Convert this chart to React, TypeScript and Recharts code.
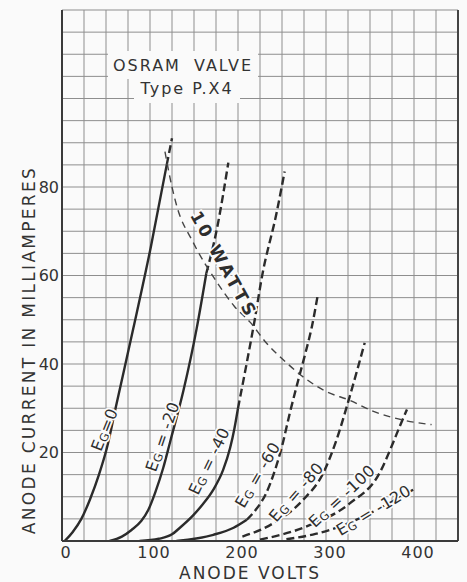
import React from 'react'
import { LineChart, Line, XAxis, YAxis, CartesianGrid, ReferenceLine, ReferenceDot } from 'recharts'

type Pt = [number, number]

// [anode volts, anode mA]
const eg0: Pt[] = [[3, 0], [12, 2], [22, 5], [32, 9.5], [42, 15], [51, 21], [62, 31], [81, 48], [101, 66.5], [119, 85]]
const eg0Ext: Pt[] = [[119, 85], [125, 91]]
const eg20: Pt[] = [[54, 0], [68, 1], [79, 2.5], [90, 4.5], [98, 7], [106, 11], [115, 16.5], [123, 22.5], [138, 34], [153, 48], [164, 60.5]]
const eg20Ext: Pt[] = [[164, 60.5], [176, 70.5], [189, 85.5]]
const eg40: Pt[] = [[88, 0], [110, 0.5], [125, 1.5], [134, 3], [149, 5.8], [160, 8.3], [172, 11.6], [183, 16], [191, 21], [196, 25.5], [200, 30]]
const eg40Ext: Pt[] = [[200, 30], [210, 40.3], [219, 50], [227, 59.5], [244, 74.3], [253, 83.5]]
const eg60: Pt[] = [[130, 0], [172, 1.4], [195, 3], [210, 4.8]]
const eg60Ext: Pt[] = [[210, 4.8], [220, 7], [232, 10.8], [242, 16], [250, 21.4], [259, 29], [268, 36], [276, 42], [284, 48.5], [291, 56]]
const eg80: Pt[] = [[205, 1], [240, 4], [274, 9.3], [297, 15.4], [312, 22.9], [327, 32.7], [344, 44.8]]
const eg100: Pt[] = [[225, 0.3], [278, 3.3], [327, 8.5], [361, 15.4], [376, 22.1], [384, 26], [392, 29.7]]
const eg120: Pt[] = [[255, 0.4], [288, 1.6], [316, 3.3], [365, 7.8], [399, 11.6]]
const tenWatts: Pt[] = [[117, 88], [125, 80], [130, 76], [149, 67.5], [176, 58.5], [196, 53], [214, 49.4], [232, 44.8], [255, 40.3], [278, 36.5], [300, 33.8], [327, 31.8], [354, 29.3], [386, 27.4], [420, 26.3]]

const voltTicks = [0, 25, 50, 75, 100, 125, 150, 175, 200, 225, 250, 275, 300, 325, 350, 375, 400, 425, 450]
const voltLabels = [0, 100, 200, 300, 400]
const ampTicks = [0, 5, 10, 15, 20, 25, 30, 35, 40, 45, 50, 55, 60, 65, 70, 75, 80, 85, 90, 95, 100, 105, 110, 115, 120]
const ampLabels = [20, 40, 60, 80]

// curve annotations: text, anchor (volts, mA), angle on screen
const gridLabels = [
  { text: '=0', v: 48, i: 25.2, angle: -68 },
  { text: ' = -20', v: 114, i: 23.6, angle: -71 },
  { text: ' = -40', v: 167, i: 18.1, angle: -64 },
  { text: ' = -60', v: 222, i: 15, angle: -60 },
  { text: ' = -80', v: 266, i: 11.1, angle: -49 },
  { text: ' = -100', v: 318, i: 10.2, angle: -43 },
  { text: ' = -120', v: 354, i: 7, angle: -31 },
]

const BG = '#fafafa'
const INK = '#2b2b2b'
const FONT = '"DejaVu Sans", sans-serif'

const pts = (a: Pt[]) => a.map(([v, i]) => ({ v, i }))

function rotated(text: string, angle: number, size: number, spacing: number, sub: boolean, weight = 'normal') {
  return (props: any) => {
    const vb = props.viewBox || {}
    const cx = (vb.x ?? props.x ?? 0) + (vb.width ?? 0) / 2
    const cy = (vb.y ?? props.y ?? 0) + (vb.height ?? 0) / 2
    return (
      <text
        x={cx}
        y={cy}
        transform={`rotate(${angle} ${cx} ${cy})`}
        textAnchor="middle"
        dominantBaseline="central"
        fontSize={size}
        fontWeight={weight}
        letterSpacing={spacing}
        fontFamily={FONT}
        fill="#2e2e2e"
        stroke={BG}
        strokeWidth={3.5}
        paintOrder="stroke"
      >
        {sub ? (
          <>
            E<tspan fontSize={size * 0.72} dy={3}>G</tspan>
            <tspan dy={-3}>{text}</tspan>
          </>
        ) : (
          text
        )}
      </text>
    )
  }
}

export default function App() {
  const solid = { stroke: INK, strokeWidth: 2.4, dot: false, activeDot: false, isAnimationActive: false, type: 'monotone' as const, dataKey: 'i' }
  const dashed = { ...solid, strokeDasharray: '8 4' }

  return (
    <div style={{ position: 'absolute', left: 0, top: 0, width: 467, height: 582, background: BG, fontFamily: FONT, color: '#333' }}>
      <LineChart width={467} height={582} margin={{ top: 10, right: 9, bottom: 11, left: 12 }}>
        <CartesianGrid stroke="#8e8e8e" strokeWidth={1} />
        <XAxis
          type="number"
          dataKey="v"
          domain={[0, 450]}
          ticks={voltTicks}
          interval={0}
          allowDataOverflow
          height={30}
          tickLine={false}
          tickSize={0}
          tickMargin={6}
          tickFormatter={(v: number) => (voltLabels.includes(v) ? String(v) : '')}
          tick={{ fill: '#333', fontSize: 16, fontFamily: FONT, letterSpacing: 1, dx: 4 }}
          axisLine={{ stroke: '#3a3a3a', strokeWidth: 2 }}
        />
        <YAxis
          type="number"
          dataKey="i"
          domain={[0, 120]}
          ticks={ampTicks}
          interval={0}
          allowDataOverflow
          width={50}
          tickLine={false}
          tickSize={0}
          tickMargin={3}
          tickFormatter={(v: number) => (ampLabels.includes(v) ? String(v) : '')}
          tick={{ fill: '#333', fontSize: 16, fontFamily: FONT }}
          axisLine={{ stroke: '#3a3a3a', strokeWidth: 2 }}
        />
        <ReferenceLine x={450} stroke="#444" strokeWidth={2} />

        <Line {...solid} data={pts(eg0)} />
        <Line {...dashed} data={pts(eg0Ext)} />
        <Line {...solid} data={pts(eg20)} />
        <Line {...dashed} data={pts(eg20Ext)} />
        <Line {...solid} data={pts(eg40)} />
        <Line {...dashed} data={pts(eg40Ext)} />
        <Line {...solid} data={pts(eg60)} />
        <Line {...dashed} data={pts(eg60Ext)} />
        <Line {...dashed} data={pts(eg80)} />
        <Line {...dashed} data={pts(eg100)} />
        <Line {...dashed} data={pts(eg120)} />
        <Line {...solid} data={pts(tenWatts)} stroke="#444" strokeWidth={1.4} strokeDasharray="7 5" />

        {gridLabels.map((g) => (
          <ReferenceDot key={g.text} x={g.v} y={g.i} r={0} fill="none" stroke="none" label={rotated(g.text, g.angle, 16, 0.5, true)} />
        ))}
        <ReferenceDot x={184} y={62.5} r={0} fill="none" stroke="none" label={rotated('10 WATTS', 61, 17, 3, false, 'bold')} />
      </LineChart>

      <div style={{ position: 'absolute', left: 108, top: 51, width: 150, height: 28, background: BG }} />
      <div style={{ position: 'absolute', left: 134, top: 78, width: 106, height: 25, background: BG }} />
      <div style={{ position: 'absolute', left: 108, top: 57, width: 150, textAlign: 'center', fontSize: 16, letterSpacing: 2, wordSpacing: 6, lineHeight: '18px', whiteSpace: 'nowrap' }}>
        OSRAM VALVE
      </div>
      <div style={{ position: 'absolute', left: 134, top: 80, width: 106, textAlign: 'center', fontSize: 16, letterSpacing: 2, lineHeight: '18px', whiteSpace: 'nowrap' }}>
        Type P.X4
      </div>

      <div style={{ position: 'absolute', left: 29, top: 350, transform: 'translate(-50%, -50%) rotate(-90deg)', fontSize: 17, letterSpacing: 2.3, whiteSpace: 'nowrap', lineHeight: '18px' }}>
        ANODE CURRENT IN MILLIAMPERES
      </div>
      <div style={{ position: 'absolute', left: 250, top: 573, transform: 'translate(-50%, -50%)', fontSize: 17, letterSpacing: 2, whiteSpace: 'nowrap', lineHeight: '18px' }}>
        ANODE VOLTS
      </div>
    </div>
  )
}
